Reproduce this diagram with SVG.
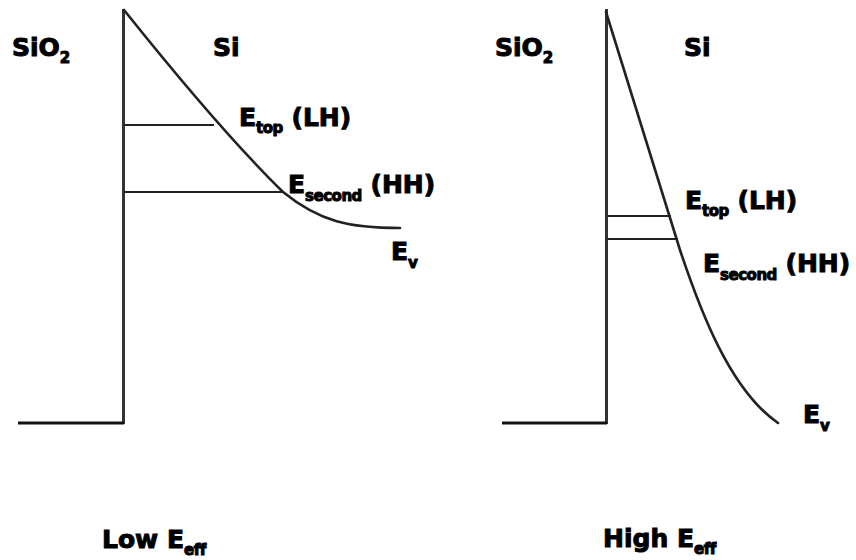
<svg xmlns="http://www.w3.org/2000/svg" width="856" height="560" viewBox="0 0 856 560">
<style>
.axis{stroke:#333;stroke-width:3;fill:none}
.base{stroke:#111;stroke-width:3;fill:none}
.band{stroke:#222;stroke-width:2.6;fill:none;stroke-linecap:round}
.lvl{stroke:#222;stroke-width:2;fill:none}
.t{font-family:"DejaVu Sans",Verdana,sans-serif;font-weight:bold;font-size:25px;fill:#000;stroke:#000;stroke-width:1}
.s{font-size:15px;letter-spacing:-0.5px}
</style>
<rect width="856" height="560" fill="#fff"/>
<g id="left-panel">
  <line class="axis" x1="123.5" y1="9" x2="123.5" y2="424"/>
  <line class="base" x1="18" y1="423" x2="124" y2="423"/>
  <line class="lvl" x1="124" y1="125" x2="214" y2="125"/>
  <line class="lvl" x1="124" y1="192" x2="284" y2="192"/>
  <path class="band" d="M124,10 C180,80 240,150 283,192 C320,222 350,228 400,228"/>
  <text class="t" x="12" y="56">SiO<tspan class="s" dy="7">2</tspan></text>
  <text class="t" x="213" y="56">Si</text>
  <text class="t" x="239" y="126">E<tspan class="s" dy="7">top</tspan><tspan dy="-7"> (LH)</tspan></text>
  <text class="t" x="288" y="193">E<tspan class="s" dy="8">second</tspan><tspan dy="-8"> (HH)</tspan></text>
  <text class="t" x="391" y="260">E<tspan class="s" dy="8">v</tspan></text>
  <text class="t" x="102" y="548">Low E<tspan class="s" dy="7">eff</tspan></text>
</g>
<g id="right-panel">
  <line class="axis" x1="606.5" y1="9" x2="606.5" y2="424"/>
  <line class="base" x1="502" y1="423" x2="607" y2="423"/>
  <line class="lvl" x1="607" y1="216" x2="671" y2="216"/>
  <line class="lvl" x1="607" y1="239" x2="678" y2="239"/>
  <path class="band" d="M606,12 L680,250 C700,310 730,390 778,423"/>
  <text class="t" x="495" y="56">SiO<tspan class="s" dy="7">2</tspan></text>
  <text class="t" x="684" y="56">Si</text>
  <text class="t" x="685" y="209">E<tspan class="s" dy="7">top</tspan><tspan dy="-7"> (LH)</tspan></text>
  <text class="t" x="703" y="272">E<tspan class="s" dy="8">second</tspan><tspan dy="-8"> (HH)</tspan></text>
  <text class="t" x="803" y="423">E<tspan class="s" dy="8">v</tspan></text>
  <text class="t" x="603" y="547">High E<tspan class="s" dy="7">eff</tspan></text>
</g>
</svg>
